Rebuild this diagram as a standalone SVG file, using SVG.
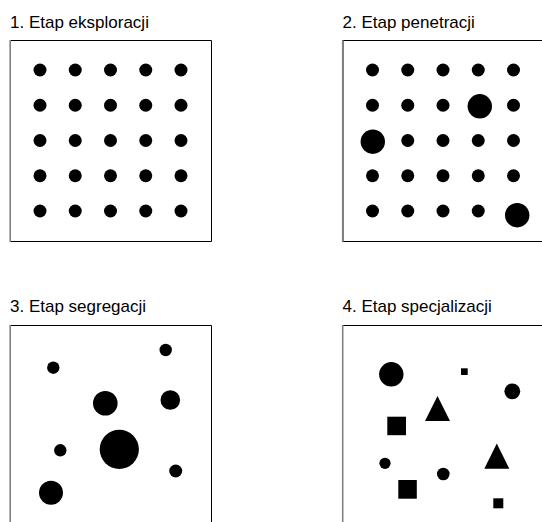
<svg xmlns="http://www.w3.org/2000/svg" width="542" height="522" viewBox="0 0 542 522">
<style>
.t{font-family:"Liberation Sans",Arial,sans-serif;font-size:17px;fill:#000}
.b{fill:none;stroke:#000;stroke-width:1}
.l{stroke:#808080;stroke-width:1.6}
.s{fill:#000}
</style>
<rect width="542" height="522" fill="#fff"/>
<g id="panel1">
<text class="t" x="10" y="28">1. Etap eksploracji</text>
<path class="b" d="M10.5 40.5H211.5V241.5H10.5"/>
<line class="l" x1="10.2" y1="40" x2="10.2" y2="242"/>
<g class="s">
<circle cx="40" cy="70" r="6.5"/><circle cx="75.25" cy="70" r="6.5"/><circle cx="110.5" cy="70" r="6.5"/><circle cx="145.75" cy="70" r="6.5"/><circle cx="181" cy="70" r="6.5"/>
<circle cx="40" cy="105.25" r="6.5"/><circle cx="75.25" cy="105.25" r="6.5"/><circle cx="110.5" cy="105.25" r="6.5"/><circle cx="145.75" cy="105.25" r="6.5"/><circle cx="181" cy="105.25" r="6.5"/>
<circle cx="40" cy="140.5" r="6.5"/><circle cx="75.25" cy="140.5" r="6.5"/><circle cx="110.5" cy="140.5" r="6.5"/><circle cx="145.75" cy="140.5" r="6.5"/><circle cx="181" cy="140.5" r="6.5"/>
<circle cx="40" cy="175.75" r="6.5"/><circle cx="75.25" cy="175.75" r="6.5"/><circle cx="110.5" cy="175.75" r="6.5"/><circle cx="145.75" cy="175.75" r="6.5"/><circle cx="181" cy="175.75" r="6.5"/>
<circle cx="40" cy="211" r="6.5"/><circle cx="75.25" cy="211" r="6.5"/><circle cx="110.5" cy="211" r="6.5"/><circle cx="145.75" cy="211" r="6.5"/><circle cx="181" cy="211" r="6.5"/>
</g>
</g>
<g id="panel2">
<text class="t" x="342.5" y="28">2. Etap penetracji</text>
<path class="b" d="M542 40.5H343V241.5H542"/>
<line class="l" x1="342.7" y1="40" x2="342.7" y2="242"/>
<g class="s">
<circle cx="372.5" cy="70" r="6.5"/><circle cx="407.75" cy="70" r="6.5"/><circle cx="443" cy="70" r="6.5"/><circle cx="478.25" cy="70" r="6.5"/><circle cx="513.5" cy="70" r="6.5"/>
<circle cx="372.5" cy="105.25" r="6.5"/><circle cx="407.75" cy="105.25" r="6.5"/><circle cx="443" cy="105.25" r="6.5"/><circle cx="479.8" cy="106.3" r="12.2"/><circle cx="513.5" cy="105.25" r="6.5"/>
<circle cx="372.8" cy="141.7" r="12.2"/><circle cx="407.75" cy="140.5" r="6.5"/><circle cx="443" cy="140.5" r="6.5"/><circle cx="478.25" cy="140.5" r="6.5"/><circle cx="513.5" cy="140.5" r="6.5"/>
<circle cx="372.5" cy="175.75" r="6.5"/><circle cx="407.75" cy="175.75" r="6.5"/><circle cx="443" cy="175.75" r="6.5"/><circle cx="478.25" cy="175.75" r="6.5"/><circle cx="513.5" cy="175.75" r="6.5"/>
<circle cx="372.5" cy="211" r="6.5"/><circle cx="407.75" cy="211" r="6.5"/><circle cx="443" cy="211" r="6.5"/><circle cx="478.25" cy="211" r="6.5"/><circle cx="517.2" cy="215.2" r="12.2"/>
</g>
</g>
<g id="panel3">
<text class="t" x="10" y="312">3. Etap segregacji</text>
<path class="b" d="M211.5 522V325.5H10.5"/>
<line class="l" x1="10.2" y1="325" x2="10.2" y2="522"/>
<g class="s">
<circle cx="53.3" cy="367.7" r="6.2"/>
<circle cx="165.7" cy="350" r="6.2"/>
<circle cx="105.3" cy="403.3" r="12.3"/>
<circle cx="170.3" cy="400" r="9.8"/>
<circle cx="60.3" cy="450.3" r="6.2"/>
<circle cx="119.3" cy="449.3" r="19.6"/>
<circle cx="175.7" cy="471" r="6.5"/>
<circle cx="51" cy="492.7" r="12"/>
</g>
</g>
<g id="panel4">
<text class="t" x="342.5" y="312">4. Etap specjalizacji</text>
<path class="b" d="M542 325.5H343"/>
<line class="l" x1="342.7" y1="325" x2="342.7" y2="522"/>
<g class="s">
<circle cx="391.3" cy="374.3" r="12.2"/>
<rect x="461" y="368.3" width="6.7" height="6.7"/>
<circle cx="512.3" cy="391.3" r="7.9"/>
<polygon points="437.5,396 425,421 450,421"/>
<rect x="387.3" y="416.7" width="18.7" height="18.5"/>
<circle cx="385" cy="463.3" r="5.6"/>
<polygon points="496.8,443.5 484.3,468.7 509.3,468.7"/>
<circle cx="443.3" cy="474" r="6.3"/>
<rect x="398.3" y="480" width="18.5" height="18.7"/>
<rect x="493.3" y="498.3" width="10" height="10"/>
</g>
</g>
</svg>
